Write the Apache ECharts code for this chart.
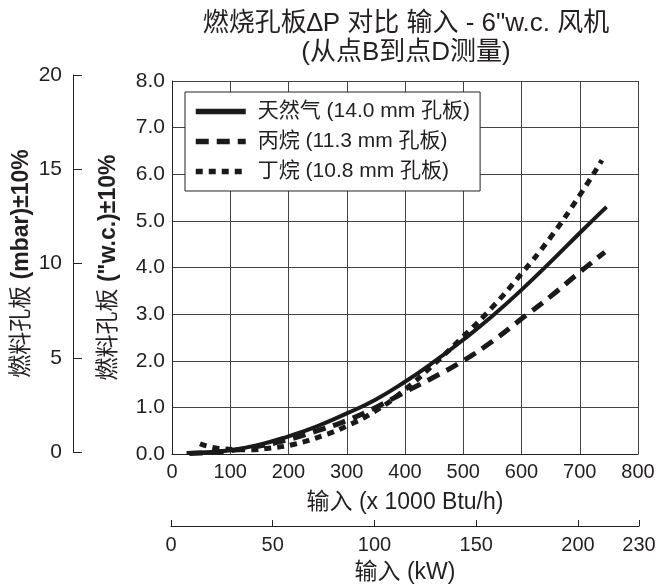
<!DOCTYPE html>
<html>
<head>
<meta charset="utf-8">
<script src="https://cdn.jsdelivr.net/npm/echarts@6/dist/echarts.min.js"></script>
<style>
html,body{margin:0;padding:0;background:#fff;}
#chart{width:668px;height:587px;}
</style>
</head>
<body>
<div id="chart"></div>
<script>
// ---- data (x = input in 1000 Btu/h, y = orifice ΔP in "w.c.) ----
const titleLines = ['燃烧孔板∆P 对比 输入 - 6"w.c. 风机', '(从点B到点D测量)'];
const seriesNames = ['天然气 (14.0 mm 孔板)', '丙烷 (11.3 mm 孔板)', '丁烷 (10.8 mm 孔板)'];
const naturalGas = [[25,0.02],[50,0.03],[100,0.08],[150,0.2],[200,0.38],[250,0.6],[300,0.87],[350,1.17],[400,1.55],[450,1.98],[500,2.45],[550,2.96],[600,3.52],[650,4.12],[700,4.74],[746,5.3]];
const propane = [[30,0.01],[50,0.02],[100,0.07],[150,0.17],[200,0.31],[250,0.5],[300,0.72],[350,1.0],[400,1.33],[450,1.65],[500,2.0],[550,2.42],[600,2.9],[650,3.38],[700,3.9],[743,4.33]];
const butane = [[48,0.22],[80,0.12],[130,0.09],[170,0.13],[210,0.21],[260,0.4],[300,0.6],[350,0.93],[400,1.38],[450,1.93],[500,2.52],[550,3.15],[600,3.87],[650,4.65],[700,5.55],[738,6.3]];
const btuRange = [0, 800, 100];     // min, max, interval
const wcRange = [0, 8, 1];
const mbarRange = [0, 20, 5];
const kwRange = [0, 230, 50];

const FONT = '"Liberation Sans", Arial, "Noto Sans CJK SC", sans-serif';
const TXT = '#231f20';

const chart = echarts.init(document.getElementById('chart'), null, {renderer: 'canvas'});
const option = {
  backgroundColor: '#fff',
  textStyle: {fontFamily: FONT, color: TXT},
  animation: false,
  title: {
    text: titleLines.join('\n'),
    left: 406, top: 9, textAlign: 'center', padding: 0,
    textStyle: {fontFamily: FONT, fontSize: 26, fontWeight: 'normal', color: TXT, lineHeight: 29}
  },
  legend: {
    data: seriesNames,
    orient: 'vertical',
    left: 185, top: 92,
    padding: [9, 10, 9, 8],
    itemWidth: 50, itemHeight: 20, itemGap: 9,
    backgroundColor: '#fff',
    borderColor: '#222', borderWidth: 1,
    textStyle: {fontFamily: FONT, fontSize: 21, color: TXT, lineHeight: 20, padding: [0, 0, 0, 7]},
    itemStyle: {opacity: 0},
    lineStyle: {width: 5.5}
  },
  grid: [
    {left: 172, right: 30, top: 81, bottom: 133, containLabel: false},
    {left: 73, width: 10, top: 75, bottom: 135, containLabel: false},
    {left: 171, right: 29, top: 525, height: 1, containLabel: false}
  ],
  xAxis: [
    {
      gridIndex: 0, type: 'value', min: btuRange[0], max: btuRange[1], interval: btuRange[2],
      name: '输入 (x 1000 Btu/h)', nameLocation: 'middle', nameGap: 37,
      nameTextStyle: {fontFamily: FONT, fontSize: 23, color: TXT},
      axisLine: {show: true, onZero: false, lineStyle: {color: '#222', width: 1}},
      axisTick: {show: false},
      axisLabel: {fontFamily: FONT, fontSize: 20, color: TXT, margin: 8},
      splitLine: {show: true, lineStyle: {color: '#444', width: 1}}
    },
    {gridIndex: 1, type: 'value', show: false, min: 0, max: 1},
    {
      gridIndex: 2, type: 'value', min: kwRange[0], max: kwRange[1], interval: kwRange[2],
      name: '输入 (kW)', nameLocation: 'middle', nameGap: 35,
      nameTextStyle: {fontFamily: FONT, fontSize: 23, color: TXT},
      axisLine: {show: true, onZero: false, lineStyle: {color: '#222', width: 1}},
      axisTick: {show: true, inside: true, length: 6, lineStyle: {color: '#222'}},
      axisLabel: {fontFamily: FONT, fontSize: 20, color: TXT, margin: 9},
      splitLine: {show: false}
    }
  ],
  yAxis: [
    {
      gridIndex: 0, type: 'value', min: wcRange[0], max: wcRange[1], interval: wcRange[2],
      name: '{a|燃料孔板 }{b|("w.c.)±10%}', nameLocation: 'middle', nameGap: 52, nameRotate: 90,
      nameTextStyle: {
        rich: {
          a: {fontFamily: FONT, fontSize: 23, color: TXT},
          b: {fontFamily: FONT, fontSize: 23, fontWeight: 'bold', color: TXT}
        }
      },
      axisLine: {show: true, onZero: false, lineStyle: {color: '#222', width: 1}},
      axisTick: {show: false},
      axisLabel: {fontFamily: FONT, fontSize: 21, color: TXT, margin: 7, formatter: v => v.toFixed(1)},
      splitLine: {show: true, lineStyle: {color: '#444', width: 1}}
    },
    {
      gridIndex: 1, type: 'value', min: mbarRange[0], max: mbarRange[1], interval: mbarRange[2],
      name: '{a|燃料孔板 }{b|(mbar)±10%}', nameLocation: 'middle', nameGap: 40, nameRotate: 90,
      nameTextStyle: {
        rich: {
          a: {fontFamily: FONT, fontSize: 23, color: TXT},
          b: {fontFamily: FONT, fontSize: 23, fontWeight: 'bold', color: TXT}
        }
      },
      axisLine: {show: true, onZero: false, lineStyle: {color: '#222', width: 1}},
      axisTick: {show: true, inside: true, length: 9, lineStyle: {color: '#222'}},
      axisLabel: {fontFamily: FONT, fontSize: 21, color: TXT, margin: 11},
      splitLine: {show: false}
    },
    {gridIndex: 2, type: 'value', show: false, min: 0, max: 1}
  ],
  series: [
    {
      name: seriesNames[0], type: 'line', xAxisIndex: 0, yAxisIndex: 0, data: naturalGas,
      smooth: true, showSymbol: false, symbol: 'none',
      lineStyle: {color: '#1a1a1a', width: 4, type: 'solid'},
      itemStyle: {color: '#1a1a1a'}
    },
    {
      name: seriesNames[1], type: 'line', xAxisIndex: 0, yAxisIndex: 0, data: propane,
      smooth: true, showSymbol: false, symbol: 'none',
      lineStyle: {color: '#1a1a1a', width: 5, type: [13, 8], cap: 'butt'},
      itemStyle: {color: '#1a1a1a'}
    },
    {
      name: seriesNames[2], type: 'line', xAxisIndex: 0, yAxisIndex: 0, data: butane,
      smooth: true, showSymbol: false, symbol: 'none',
      lineStyle: {color: '#1a1a1a', width: 5, type: [7, 6], cap: 'butt'},
      itemStyle: {color: '#1a1a1a'}
    }
  ]
};
chart.setOption(option);
</script>
</body>
</html>
